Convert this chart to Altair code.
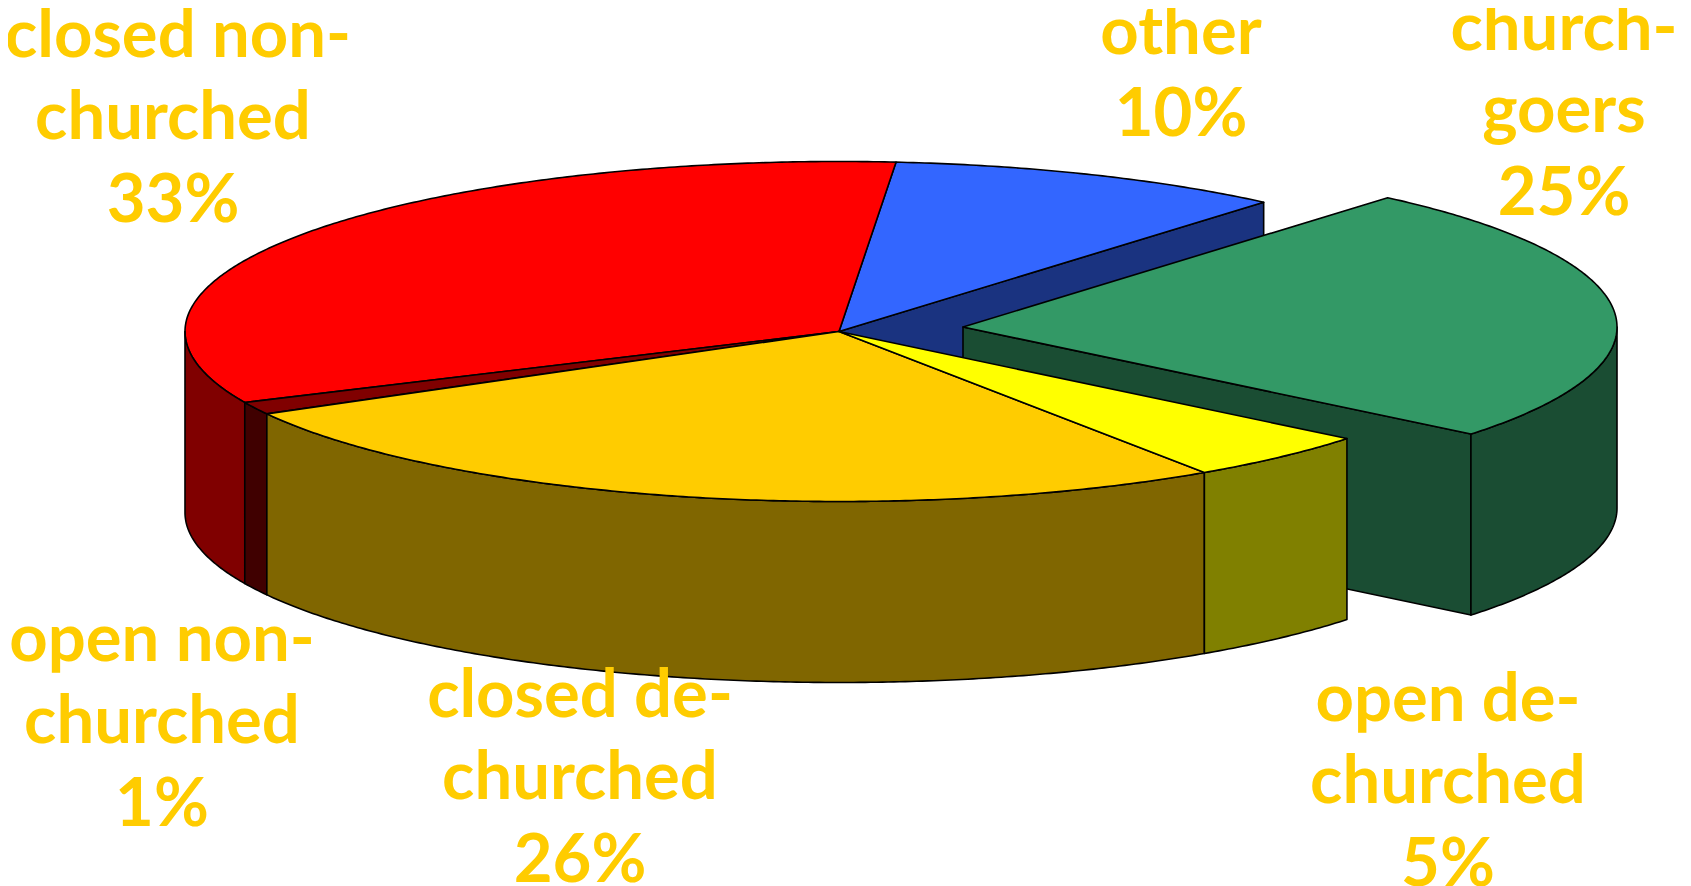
import math
import altair as alt

# share of each slice (clockwise from the top), labels, colours
names = ["other", "church-goers", "open de-churched", "closed de-churched", "open non-churched", "closed non-churched"]
values = [9.86, 24.6, 4.72, 26.39, 1.19, 33.25]
top_colors = ["#3366FF", "#339966", "#FFFF00", "#FFCC00", "#800000", "#FF0000"]
side_colors = ["#1A3380", "#1A4D33", "#808000", "#806600", "#400000", "#800000"]

label_lines = [
    ["other", "10%"],
    ["church-", "goers", "25%"],
    ["open de-", "churched", "5%"],
    ["closed de-", "churched", "26%"],
    ["open non-", "churched", "1%"],
    ["closed non-", "churched", "33%"],
]
label_centers = [1181, 1564, 1448, 580, 162, 173]
label_first_baselines = [54, 50, 721, 717, 661, 57]
line_shift = {"closed non-": 5}

# pie geometry (page pixels)
OFF = 8
CX, CY = 839 - OFF, 331.5 - OFF
RX, RY = 654, 170
DEPTH = 181
EXPLODE = {"church-goers": (124, -4.5)}
START = 5.0
LINE_H = 82.3


def pt(t, c):
    r = math.radians(t)
    return [c[0] + RX * math.sin(r), c[1] - RY * math.cos(r)]


def arc(a, b, c):
    n = max(2, int(abs(b - a) * 2))
    return [pt(a + (b - a) * i / n, c) for i in range(n + 1)]


def down(p):
    return [p[0], p[1] + DEPTH]


def feat(ring, fill, name):
    return {"type": "Feature", "properties": {"fill": fill, "name": name},
            "geometry": {"type": "Polygon", "coordinates": [ring + [ring[0]]]}}


slices = {}
t = START
total = sum(values)
for n, v, tc, sc in zip(names, values, top_colors, side_colors):
    e = t + v / total * 360
    dx, dy = EXPLODE.get(n, (0, 0))
    slices[n] = dict(a=t, b=e, c=(CX + dx, CY + dy), top=tc, side=sc)
    t = e


def top(n):
    s = slices[n]
    return feat([list(s["c"])] + arc(s["a"], s["b"], s["c"]), s["top"], n)


def rim(n, a=None, b=None):
    s = slices[n]
    up = arc(a if a is not None else s["a"], b if b is not None else s["b"], s["c"])
    return feat(up + [down(p) for p in reversed(up)], s["side"], n)


def cut(n, at):
    s = slices[n]
    c = list(s["c"])
    p = pt(at, s["c"])
    return feat([c, p, down(p), down(c)], s["side"], n)


blue, green, yellow, gold, dark, red = names[0], names[1], names[2], names[3], names[4], names[5]
features = [
    cut(blue, slices[blue]["b"]), top(blue),
    top(red), rim(red, slices[red]["a"], 270),
    cut(green, slices[green]["b"]), rim(green, 90, slices[green]["b"]), top(green),
    rim(dark), top(dark),
    rim(gold), top(gold),
    rim(yellow), top(yellow),
]

rows = []
for lines, cx, by in zip(label_lines, label_centers, label_first_baselines):
    for i, s in enumerate(lines):
        rows.append({"text": s, "lon": cx - OFF + line_shift.get(s, 0), "lat": by + i * LINE_H - OFF})

proj = dict(type="identity", scale=1, translate=[0, 0])

shapes = alt.Chart(
    alt.InlineData(values={"type": "FeatureCollection", "features": features},
                   format=alt.DataFormat(property="features", type="json"))
).mark_geoshape(stroke="black", strokeWidth=1.6, strokeJoin="round").encode(
    fill=alt.Fill("properties.fill:N", scale=None)
).project(**proj)

labels = alt.Chart(alt.Data(values=rows)).mark_text(
    font="Lato", fontWeight="bold", fontSize=67, color="#FFCC00",
    align="center", baseline="alphabetic"
).encode(
    longitude="lon:Q", latitude="lat:Q", text="text:N"
).project(**proj)

chart = alt.layer(shapes, labels).properties(
    width=1675, height=878, padding=0, autosize=alt.AutoSizeParams(type="none"),
    background="white"
).configure_view(stroke=None)

chart.save("out.html", embed_options={"renderer": "svg", "actions": False})
